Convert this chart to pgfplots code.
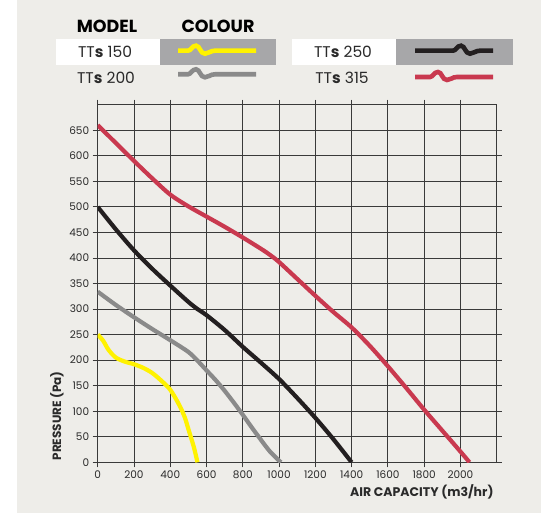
\documentclass[border=0pt]{standalone}
\usepackage{pgfplots}
\pgfplotsset{compat=1.18}
\usepackage{fontspec}
\setmainfont{Poppins}
\definecolor{bg}{HTML}{EEEDE9}
\definecolor{cyel}{HTML}{FFF200}
\definecolor{cgray}{HTML}{8A8A8A}
\definecolor{cblack}{HTML}{231F20}
\definecolor{cred}{HTML}{C9394F}
\definecolor{boxgray}{HTML}{A7A7A9}
\definecolor{gridc}{HTML}{3A3A3A}
\definecolor{txt}{HTML}{2A2A2A}
\newcommand\wig[5]{% color, x0, x1, wiggle start, y
  \draw[#1, line width=4.6pt] (#2,#5) -- (#4,#5)
    .. controls (#4+3,#5) and (#4+4,#5+5) .. (#4+8,#5+5)
    .. controls (#4+12,#5+5) and (#4+12,#5-3) .. (#4+17,#5-3)
    .. controls (#4+21,#5-3) and (#4+22,#5) .. (#4+27,#5) -- (#3,#5);}
\newcommand\TTs[1]{TT\textbf{s}~#1}
\begin{document}
\begin{tikzpicture}[x=1pt,y=1pt]
\fill[white] (0,0) rectangle (543,513);
\fill[bg] (17.3,0) rectangle (541,513);
% legend
\node[font=\fontsize{17.5}{19}\selectfont\bfseries, text=black] at (107,487) {MODEL};
\node[font=\fontsize{17.5}{19}\selectfont\bfseries, text=black] at (218,487) {COLOUR};
\fill[white] (56.4,447.6) rectangle (159.8,473.7);
\fill[boxgray] (159.8,447.6) rectangle (276.4,473.7);
\fill[white] (292.4,447.6) rectangle (396.1,473.7);
\fill[boxgray] (396.1,447.6) rectangle (512.7,473.7);
\node[font=\fontsize{15.5}{18}\selectfont, text=txt] at (105,461) {\TTs{150}};
\node[font=\fontsize{15.5}{18}\selectfont, text=txt] at (106,435) {\TTs{200}};
\node[font=\fontsize{15.5}{18}\selectfont, text=txt] at (343,461) {\TTs{250}};
\node[font=\fontsize{15.5}{18}\selectfont, text=txt] at (342,435) {\TTs{315}};
\wig{cyel}{178}{256}{188}{462.3}
\wig{cgray}{178}{256}{188}{438.7}
\wig{cblack}{415}{493}{453}{462.3}
\wig{cred}{415}{493}{430}{436}
% axis titles
\node[font=\fontsize{12}{13}\selectfont\bfseries, text=txt, rotate=90] at (57,97) {PRESSURE (Pa)};
\node[font=\fontsize{12.5}{14}\selectfont\bfseries, text=txt, anchor=east] at (497,21) {AIR CAPACITY (m3/hr)};
\begin{axis}[
  at={(97.7pt,50.7pt)}, anchor=south west,
  scale only axis, width=399pt, height=357.6pt,
  xmin=0, xmax=2200, ymin=0, ymax=700,
  xtick={0,200,...,2000}, ytick={0,50,...,650},
  grid=major, major grid style={color=gridc, line width=0.9pt},
  axis line style={gridc, line width=1pt},
  tick style={gridc, line width=0.8pt},
  tick align=outside, major tick length=5pt,
  /pgf/number format/assume math mode=true,
  /pgf/number format/1000 sep={},
  ticklabel style={font=\fontsize{10.5}{12}\selectfont, text=txt},
]
\addplot[cyel, line width=4.2pt, smooth] coordinates {
(0,250) (30,238) (60,220) (100,205) (150,197) (200,192) (250,185) (300,175)
(350,160) (400,142) (450,112) (480,88) (500,65) (530,30) (550,0)};
\addplot[cgray, line width=4.2pt, smooth] coordinates {
(0,334) (100,308) (200,284) (300,261) (400,239) (500,216) (550,199) (600,180)
(650,161) (700,140) (750,117) (800,93) (850,68) (900,44) (950,21) (1010,0)};
\addplot[cblack, line width=4.2pt, smooth] coordinates {
(0,500) (100,456) (200,415) (300,379) (400,346) (500,314) (550,300) (600,288)
(700,259) (800,226) (900,195) (1000,163) (1100,126) (1200,87) (1300,45) (1400,0)};
\addplot[cred, line width=4.2pt, smooth] coordinates {
(0,660) (100,625) (200,590) (300,556) (400,524) (500,501) (600,481) (700,461)
(800,440) (900,418) (950,406) (1000,392) (1100,359) (1200,326) (1300,294)
(1400,264) (1500,228) (1600,188) (1700,146) (1800,103) (1900,62) (2000,21) (2050,0)};
\end{axis}
\end{tikzpicture}
\end{document}
